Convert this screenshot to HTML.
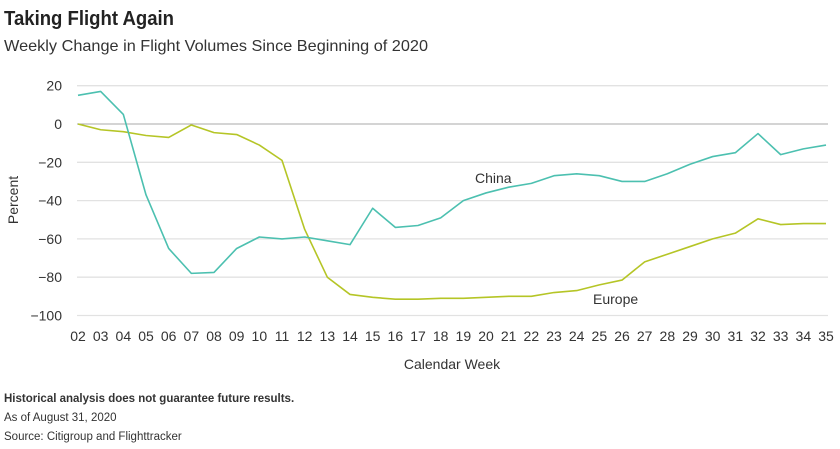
<!DOCTYPE html>
<html><head><meta charset="utf-8"><style>
body{margin:0;width:840px;height:444px;background:#fff;font-family:"Liberation Sans",sans-serif;color:#222;overflow:hidden}
svg text{font-family:"Liberation Sans",sans-serif}
</style></head><body>
<svg width="840" height="444">
<text x="4" y="25" font-size="20" font-weight="bold" fill="#222" textLength="170" lengthAdjust="spacingAndGlyphs">Taking Flight Again</text>
<text x="4" y="51" font-size="16" fill="#333" textLength="424" lengthAdjust="spacingAndGlyphs">Weekly Change in Flight Volumes Since Beginning of 2020</text>
<g id="grid"></g><g id="series"></g><g id="xticks"></g>
<text x="18" y="200" font-size="14" fill="#333" text-anchor="middle" transform="rotate(-90 18 200)">Percent</text>
<text x="452" y="369" font-size="14" fill="#333" text-anchor="middle">Calendar Week</text>
<text x="475" y="183" font-size="14" fill="#333">China</text>
<text x="593" y="304" font-size="14" fill="#333">Europe</text>
<text x="4" y="402" font-size="11.5" font-weight="bold" fill="#333">Historical analysis does not guarantee future results.</text>
<text x="4" y="421" font-size="11.5" fill="#333">As of August 31, 2020</text>
<text x="4" y="440" font-size="11.5" fill="#333">Source: Citigroup and Flighttracker</text>
</svg>
<script>
const weeks=["02","03","04","05","06","07","08","09","10","11","12","13","14","15","16","17","18","19","20","21","22","23","24","25","26","27","28","29","30","31","32","33","34","35"];
const yTicks=[20,0,-20,-40,-60,-80,-100];
const china=[15,17,5,-37,-65,-78,-77.5,-65,-59,-60,-59,-61,-63,-44,-54,-53,-49,-40,-36,-33,-31,-27,-26,-27,-30,-30,-26,-21,-17,-15,-5,-16,-13,-11];
const europe=[0,-3,-4,-6,-7,-0.5,-4.5,-5.5,-11,-19,-55,-80,-89,-90.5,-91.5,-91.5,-91,-91,-90.5,-90,-90,-88,-87,-84,-81.5,-72,-68,-64,-60,-57,-49.5,-52.5,-52,-52];
const X0=78,X1=826,Y0=124,PX=1.915;
const xs=i=>X0+i*(X1-X0)/(weeks.length-1);
const ys=v=>Y0-v*PX;
const NS="http://www.w3.org/2000/svg";
function mk(tag,at,parent){const e=document.createElementNS(NS,tag);for(const k in at)e.setAttribute(k,at[k]);document.getElementById(parent).appendChild(e);return e;}
yTicks.forEach(t=>{
 const l=mk("line",{x1:77,x2:828,y1:ys(t),y2:ys(t),stroke:t===0?"#aaa":"#e2e2e2","stroke-width":t===0?1:1.3},"grid");
 
 
 const tx=mk("text",{x:62,y:ys(t)+5,"font-size":14,fill:"#333","text-anchor":"end"},"grid");
 tx.textContent=t<0?"\u2212"+(-t):String(t);
 
 
});
weeks.forEach((w,i)=>{
 const tx=mk("text",{x:xs(i),y:341,"font-size":14,fill:"#333","text-anchor":"middle"},"xticks");
 tx.textContent=w;
 
 
});
function line(vals,col,name){
 const p=mk("polyline",{points:vals.map((v,i)=>xs(i)+","+ys(v)).join(" "),fill:"none",stroke:col,"stroke-width":1.6,"stroke-linejoin":"round"},"series");
 
 
}
line(europe,"#b5c526","europe-line");
line(china,"#4cc0b0","china-line");
</script>
</body></html>
